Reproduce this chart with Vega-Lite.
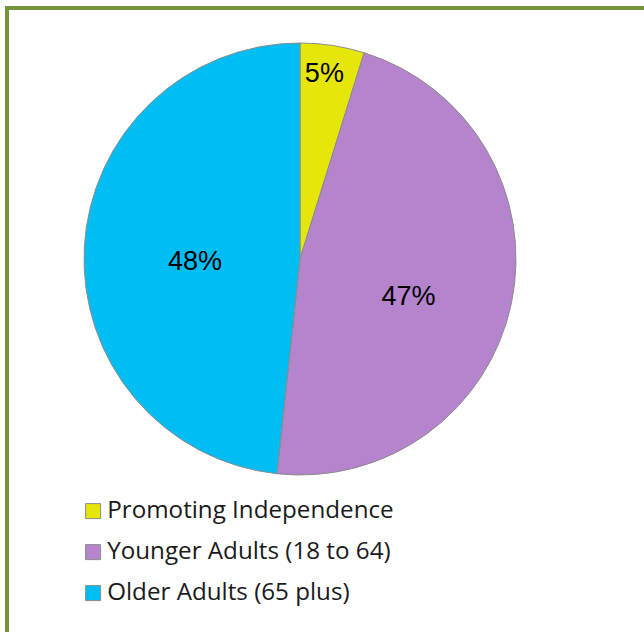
{
  "$schema": "https://vega.github.io/schema/vega-lite/v6.json",
  "autosize": "none",
  "width": 641,
  "height": 628,
  "padding": {"left": 7, "top": 8, "right": -4, "bottom": -4},
  "background": "white",
  "view": {"stroke": "#77933C", "strokeWidth": 4, "fill": "white"},
  "config": {
    "view": {"stroke": "#77933C", "strokeWidth": 4},
    "font": "Liberation Sans"
  },
  "data": {
    "values": [
      {"group": "Promoting Independence", "share": 0.048, "rank": 1},
      {"group": "Younger Adults (18 to 64)", "share": 0.469, "rank": 2},
      {"group": "Older Adults (65 plus)", "share": 0.483, "rank": 3}
    ]
  },
  "encoding": {
    "theta": {"field": "share", "type": "quantitative", "stack": true},
    "order": {"field": "rank", "type": "quantitative"}
  },
  "layer": [
    {
      "mark": {"type": "arc", "outerRadius": 216, "x": 293, "y": 251, "stroke": "#8c8c8c", "strokeWidth": 1},
      "encoding": {
        "color": {
          "field": "group",
          "type": "nominal",
          "sort": ["Promoting Independence", "Younger Adults (18 to 64)", "Older Adults (65 plus)"],
          "scale": {
            "domain": ["Promoting Independence", "Younger Adults (18 to 64)", "Older Adults (65 plus)"],
            "range": ["#E6E60A", "#B584CC", "#00BDF4"]
          },
          "legend": {
            "title": null,
            "orient": "none",
            "legendX": 74,
            "legendY": 491,
            "padding": 0,
            "symbolType": "square",
            "symbolSize": 225,
            "symbolStrokeColor": "#8c8c8c",
            "symbolStrokeWidth": 1,
            "symbolOpacity": 1,
            "labelFont": "Open Sans",
            "labelFontSize": 24.2,
            "labelColor": "#1a1a1a",
            "labelOffset": 2,
            "rowPadding": 16,
            "labelLimit": 500
          }
        }
      }
    },
    {
      "mark": {"type": "text", "x": 293, "y": 251, "radius": 187, "thetaOffset": -0.02, "fontSize": 27, "color": "black"},
      "encoding": {
        "text": {"condition": {"test": "datum.rank === 1", "field": "share", "format": ".0%"}, "value": ""}
      }
    },
    {
      "mark": {"type": "text", "x": 293, "y": 251, "radius": 115, "thetaOffset": 0.131, "fontSize": 27, "color": "black"},
      "encoding": {
        "text": {"condition": {"test": "datum.rank === 2", "field": "share", "format": ".0%"}, "value": ""}
      }
    },
    {
      "mark": {"type": "text", "x": 293, "y": 251, "radius": 105, "thetaOffset": -0.08, "fontSize": 27, "color": "black"},
      "encoding": {
        "text": {"condition": {"test": "datum.rank === 3", "field": "share", "format": ".0%"}, "value": ""}
      }
    }
  ]
}
